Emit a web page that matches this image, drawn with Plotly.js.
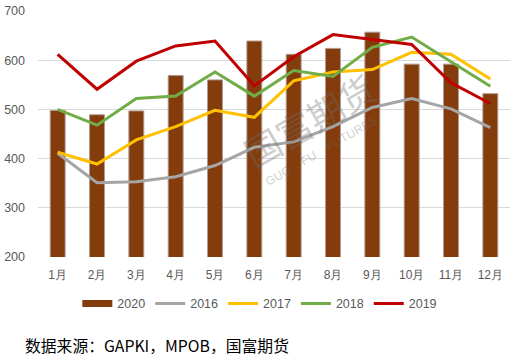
<!DOCTYPE html>
<html><head><meta charset="utf-8">
<script src="https://cdn.plot.ly/plotly-3.0.1.min.js"></script>
<style>html,body{margin:0;padding:0;background:#fff}#chart{width:516px;height:357px}</style>
</head><body><div id="chart"></div>
<script>
const months = ['1月','2月','3月','4月','5月','6月','7月','8月','9月','10月','11月','12月'];
const y2020 = [498, 489, 497, 569, 560, 639, 612, 624, 657, 592, 592, 532];
const y2016 = [411, 351, 353, 363, 386, 423, 434, 465, 504, 522, 501, 463];
const y2017 = [413, 389, 438, 465, 498, 484, 558, 576, 581, 616, 612, 562];
const y2018 = [500, 468, 522, 527, 576, 527, 579, 567, 626, 647, 597, 547];
const y2019 = [612, 541, 598, 629, 639, 548, 607, 652, 642, 632, 554, 512];
const yTicks = [200, 300, 400, 500, 600, 700];

const lineStyle = c => ({color: c, width: 3});
const traces = [
  {type:'bar', x: months, y: y2020, name:'2020', showlegend:false,
   marker:{color:'#843C0C', line:{color:'#B09A90', width:1}}},
  {type:'scatter', mode:'lines', x:[null], y:[null], name:'2020', legendrank:1,
   line:{color:'#843C0C', width:7}, hoverinfo:'skip'},
  {type:'scatter', mode:'lines', x: months, y: y2016, name:'2016', legendrank:2, line: lineStyle('#A5A5A5')},
  {type:'scatter', mode:'lines', x: months, y: y2017, name:'2017', legendrank:3, line: lineStyle('#FFC000')},
  {type:'scatter', mode:'lines', x: months, y: y2018, name:'2018', legendrank:4, line: lineStyle('#70AD47')},
  {type:'scatter', mode:'lines', x: months, y: y2019, name:'2019', legendrank:5, line: lineStyle('#C00000')}
];

const layout = {
  width:516, height:357,
  margin:{l:38, r:6, t:11, b:100},
  paper_bgcolor:'#fff', plot_bgcolor:'#fff',
  font:{family:'Liberation Sans, Arial, sans-serif', size:12, color:'#595959'},
  bargap:0.62,
  xaxis:{type:'category', showgrid:false, zeroline:false, showline:false, ticks:'',
    ticklabelstandoff:9, tickfont:{size:12, color:'#595959'}, fixedrange:true},
  yaxis:{range:[200,700], tickvals:yTicks, showgrid:true, gridcolor:'#D9D9D9', gridwidth:1,
    zeroline:false, showline:false, ticks:'', ticklabelstandoff:12,
    tickfont:{size:12.5, color:'#595959'}, fixedrange:true},
  legend:{orientation:'h', x:0.47, xanchor:'center', y:-0.13, yanchor:'top',
    font:{size:12.5, color:'#595959'}, itemwidth:30, traceorder:'normal'},
  showlegend:true,
  annotations:[
    {xref:'paper', yref:'paper', x:0.575, y:0.56, text:'国富期货', showarrow:false, textangle:-30,
     font:{family:'Noto Sans CJK SC', size:36, color:'rgba(110,110,110,0.35)'}},
    {xref:'paper', yref:'paper', x:0.6, y:0.43, text:'GUO    FU    FUTURES', showarrow:false, textangle:-30,
     font:{family:'Liberation Sans, Arial', size:12, color:'rgba(110,110,110,0.35)'}},
    {xref:'paper', yref:'paper', x:-0.032, xanchor:'left', y:-0.358, yanchor:'middle',
     text:'数据来源：GAPKI，MPOB，国富期货', showarrow:false,
     font:{family:'Noto Sans CJK SC', size:15.8, color:'#000'}}
  ]
};
Plotly.newPlot('chart', traces, layout, {displayModeBar:false, staticPlot:true});
</script></body></html>
